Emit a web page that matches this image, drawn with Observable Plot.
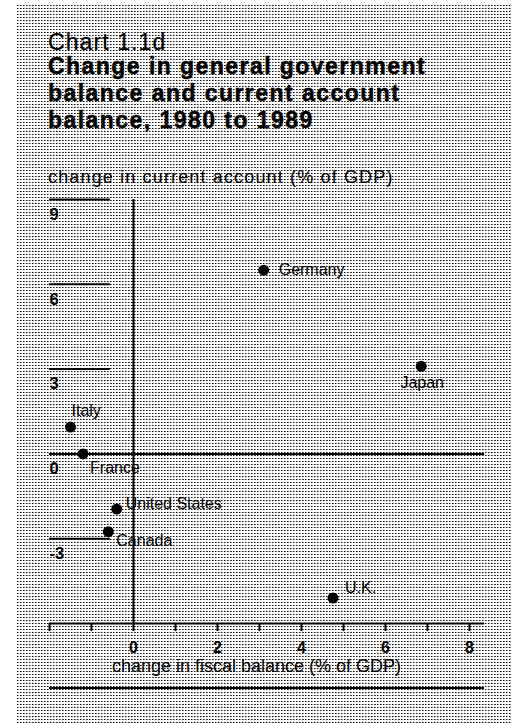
<!DOCTYPE html>
<html>
<head>
<meta charset="utf-8">
<script src="https://cdn.jsdelivr.net/npm/d3@7"></script>
<script src="https://cdn.jsdelivr.net/npm/@observablehq/plot@0.6"></script>
<style>
  html, body { margin: 0; padding: 0; background: #fff; }
  #page {
    position: relative; width: 511px; height: 723px; overflow: hidden;
    font-family: "Liberation Sans", Arial, Helvetica, sans-serif; color: #000;
  }
  #bg {
    position: absolute; left: 16px; top: 4px; right: 0; bottom: 0;
    background-image: url("data:image/svg+xml;utf8,<svg xmlns='http://www.w3.org/2000/svg' width='3' height='3' shape-rendering='crispEdges'><rect width='3' height='3' fill='white'/><rect x='1' y='1' width='1' height='1' fill='%23111'/><rect x='2' y='1' width='1' height='1' fill='%23777'/></svg>");
    background-repeat: repeat;
  }
  .t { position: absolute; left: 48px; white-space: nowrap; }
  #kicker { top: 32px; font-size: 23px; letter-spacing: 1.1px; line-height: 20px; -webkit-text-stroke: 0.2px #000; }
  #title { top: 53px; font-size: 23px; font-weight: bold; letter-spacing: 1.45px; line-height: 27px; -webkit-text-stroke: 0.5px #000; }
  #ylabel { top: 167px; font-size: 18px; letter-spacing: 1.15px; line-height: 20px; }
  #chart { position: absolute; left: 0; top: 190px; }
  #bottomline { position: absolute; left: 49px; top: 687px; width: 435px; height: 2px; background: #000; }
</style>
</head>
<body>
<div id="page">
  <div id="bg"></div>
  <div class="t" id="kicker">Chart 1.1d</div>
  <div class="t" id="title">Change in general government<br>balance and current account<br>balance, 1980 to 1989</div>
  <div class="t" id="ylabel">change in current account (% of GDP)</div>
  <div id="chart"></div>
  <div id="bottomline"></div>
</div>
<script>
// ---- data ----
const countries = ["Germany", "Japan", "Italy", "France", "United States", "Canada", "U.K."];
const fiscalChange = [3.1, 6.85, -1.5, -1.2, -0.4, -0.6, 4.75];     // x: change in fiscal balance (% of GDP)
const currentAccountChange = [6.5, 3.1, 0.95, 0.0, -1.95, -2.75, -5.1]; // y: change in current account (% of GDP)
const xTicks = [-2, -1, 0, 1, 2, 3, 4, 5, 6, 7, 8];
const xTickLabels = [0, 2, 4, 6, 8];
const yTicks = [9, 6, 3, -3];
const yTickLabels = [9, 6, 3, 0, -3];

// ---- layout/styling (not data) ----
const xDomain = [-2, 8];
const yDomain = [-6, 9];
const axisRightEnd = 8.36;
const yTickLineEnd = -0.55;
const labelStyle = {
  "Germany":       {anchor: "start",  dx: 15, dy: 0},
  "Japan":         {anchor: "middle", dx: 1,  dy: 17},
  "Italy":         {anchor: "start",  dx: 1,  dy: -16},
  "France":        {anchor: "start",  dx: 7,  dy: 14},
  "United States": {anchor: "start",  dx: 9,  dy: -5},
  "Canada":        {anchor: "start",  dx: 8,  dy: 9},
  "U.K.":          {anchor: "start",  dx: 12, dy: -10}
};

const data = countries.map((c, i) => ({country: c, x: fiscalChange[i], y: currentAccountChange[i]}));

const labelMarks = data.map(d => Plot.text([d], {
  x: "x", y: "y", text: "country",
  textAnchor: labelStyle[d.country].anchor,
  dx: labelStyle[d.country].dx, dy: labelStyle[d.country].dy,
  fontSize: 16, fill: "#000",
  style: "letter-spacing:0.6px"
}));

const chart = Plot.plot({
  width: 511,
  height: 533,
  marginLeft: 49,
  marginRight: 42,
  marginTop: 9,
  marginBottom: 100,
  style: {background: "transparent", fontFamily: "'Liberation Sans', Arial, Helvetica, sans-serif", color: "#000", overflow: "visible"},
  x: {domain: xDomain, axis: null},
  y: {domain: yDomain, axis: null},
  marks: [
    // zero line (horizontal)
    Plot.ruleY([0], {x1: xDomain[0], x2: axisRightEnd, stroke: "#000", strokeWidth: 2}),
    // x axis baseline
    Plot.ruleY([yDomain[0]], {x1: xDomain[0], x2: axisRightEnd, stroke: "#000", strokeWidth: 2}),
    // short y "tick" lines
    Plot.ruleY(yTicks, {x1: xDomain[0], x2: yTickLineEnd, stroke: "#000", strokeWidth: 2}),
    // y tick labels below lines
    Plot.text(yTickLabels, {x: () => xDomain[0], y: d => d, text: d => String(d), textAnchor: "start", dy: 15, fontSize: 16.5, fontWeight: "bold"}),
    // vertical zero line
    Plot.ruleX([0], {y1: yDomain[0], y2: yDomain[1], stroke: "#000", strokeWidth: 2}),
    // x ticks
    Plot.axisX({ticks: xTicks, tickSize: 8, tickFormat: () => "", strokeWidth: 2, stroke: "#000", label: null}),
    Plot.axisX({ticks: xTickLabels, tickSize: 0, tickPadding: 18, fontSize: 16, fontWeight: "bold", label: null}),
    Plot.text(["change in fiscal balance (% of GDP)"], {frameAnchor: "bottom", dx: -3, dy: 48, fontSize: 18, style: "letter-spacing:0.55px"}),
    // points
    Plot.dot(data, {x: "x", y: "y", r: 5.5, fill: "#000", stroke: "none"}),
    ...labelMarks
  ]
});
document.getElementById("chart").appendChild(chart);
</script>
</body>
</html>
